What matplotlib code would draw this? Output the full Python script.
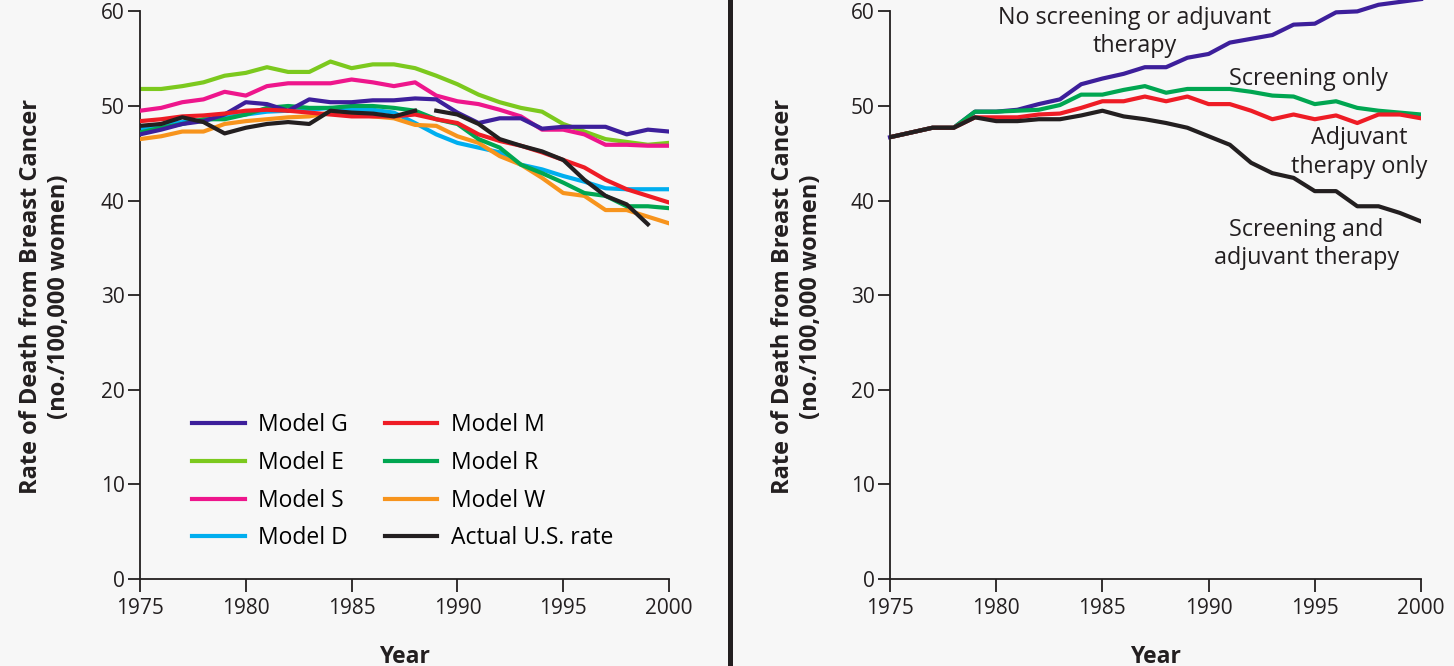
import matplotlib.pyplot as plt
from matplotlib.lines import Line2D

plt.rcParams['font.family'] = ['Open Sans', 'DejaVu Sans']

years = list(range(1975, 2001))

# left panel: model estimates, 1975-2000
model_g = [47.0, 47.5, 48.1, 48.4, 49.1, 50.4, 50.2, 49.5, 50.7, 50.4, 50.4, 50.6, 50.6,
           50.8, 50.7, 49.3, 48.2, 48.7, 48.7, 47.6, 47.8, 47.8, 47.8, 47.0, 47.5, 47.3]
model_e = [51.8, 51.8, 52.1, 52.5, 53.2, 53.5, 54.1, 53.6, 53.6, 54.7, 54.0, 54.4, 54.4,
           54.0, 53.2, 52.3, 51.2, 50.4, 49.8, 49.4, 48.1, 47.3, 46.5, 46.2, 45.9, 46.1]
model_s = [49.5, 49.8, 50.4, 50.7, 51.5, 51.1, 52.1, 52.4, 52.4, 52.4, 52.8, 52.5, 52.1,
           52.5, 51.1, 50.5, 50.2, 49.6, 48.9, 47.5, 47.5, 47.0, 45.9, 45.9, 45.8, 45.8]
model_d = [47.5, 48.0, 48.3, 48.5, 48.8, 49.1, 49.4, 49.5, 49.6, 49.8, 49.6, 49.6, 49.3,
           48.2, 47.0, 46.1, 45.6, 45.1, 43.8, 43.3, 42.6, 42.0, 41.3, 41.2, 41.2, 41.2]
model_m = [48.4, 48.6, 48.9, 49.0, 49.2, 49.5, 49.6, 49.5, 49.3, 49.1, 48.9, 48.9, 48.9,
           49.1, 48.6, 48.2, 47.0, 46.3, 45.8, 45.1, 44.3, 43.5, 42.2, 41.2, 40.5, 39.8]
model_r = [47.2, 47.7, 48.1, 48.6, 48.6, 49.1, 49.8, 50.0, 49.8, 49.8, 50.0, 50.0, 49.8,
           49.5, 48.6, 48.1, 46.5, 45.6, 43.8, 42.9, 41.9, 40.8, 40.5, 39.4, 39.4, 39.2]
model_w = [46.5, 46.8, 47.3, 47.3, 48.1, 48.4, 48.6, 48.8, 48.9, 49.3, 49.2, 48.9, 48.7,
           48.0, 47.9, 46.8, 46.1, 44.7, 43.8, 42.4, 40.8, 40.5, 39.0, 39.0, 38.3, 37.6]
# actual rate 1975-1999 (drawn as two pieces, 1975-88 and 1989-99)
actual = [47.9, 48.1, 48.8, 48.3, 47.1, 47.7, 48.1, 48.3, 48.1, 49.5, 49.3, 49.2, 48.9,
          49.5, 49.5, 49.1, 48.1, 46.5, 45.8, 45.2, 44.3, 42.2, 40.5, 39.6, 37.5]

# right panel: scenarios
no_screen = [46.7, 47.2, 47.7, 47.7, 49.4, 49.4, 49.6, 50.2, 50.7, 52.3, 52.9, 53.4, 54.1,
             54.1, 55.1, 55.5, 56.7, 57.1, 57.5, 58.6, 58.7, 59.9, 60.0, 60.7, 61.0, 61.3]
screen_only = [46.7, 47.2, 47.7, 47.7, 49.4, 49.4, 49.5, 49.6, 50.1, 51.2, 51.2, 51.7, 52.1,
               51.4, 51.8, 51.8, 51.8, 51.5, 51.1, 51.0, 50.2, 50.5, 49.8, 49.5, 49.3, 49.1]
adj_only = [46.7, 47.2, 47.7, 47.7, 48.8, 48.8, 48.8, 49.1, 49.2, 49.8, 50.5, 50.5, 51.0,
            50.5, 51.0, 50.2, 50.2, 49.5, 48.6, 49.1, 48.6, 49.0, 48.2, 49.1, 49.1, 48.7]
both = [46.7, 47.2, 47.7, 47.7, 48.8, 48.4, 48.4, 48.6, 48.6, 49.0, 49.5, 48.9, 48.6,
        48.2, 47.7, 46.8, 45.9, 44.0, 42.9, 42.4, 41.0, 41.0, 39.4, 39.4, 38.7, 37.8]

PURPLE = '#3d1f9b'
LGREEN = '#7cc91e'
MAGENTA = '#ee168c'
LBLUE = '#00aeef'
RED = '#ee1c25'
GREEN = '#00a651'
ORANGE = '#f7941d'
BLACK = '#231f20'

W, H = 1454, 666
fig = plt.figure(figsize=(W / 100, H / 100), dpi=100, facecolor='#f7f7f7')

ytop = 61.5
ax1 = fig.add_axes([140 / W, 87 / H, 529 / W, 581.8 / H])
ax2 = fig.add_axes([890 / W, 87 / H, 531 / W, 581.8 / H])

lw = 3.0
ax1.plot(years, model_e, color=LGREEN, lw=lw, label='Model E', zorder=2)
ax1.plot(years, model_s, color=MAGENTA, lw=lw, label='Model S', zorder=3)
ax1.plot(years, model_g, color=PURPLE, lw=lw, label='Model G', zorder=4)
ax1.plot(years, model_d, color=LBLUE, lw=lw, label='Model D', zorder=2)
ax1.plot(years, model_w, color=ORANGE, lw=lw, label='Model W', zorder=3)
ax1.plot(years, model_r, color=GREEN, lw=lw, label='Model R', zorder=3)
ax1.plot(years, model_m, color=RED, lw=lw, label='Model M', zorder=4)
ax1.plot(years[:14], actual[:14], color=BLACK, lw=lw, label='Actual U.S. rate', zorder=5)
ax1.plot(years[14:25], actual[14:], color=BLACK, lw=lw, zorder=5)

handles, labels = ax1.get_legend_handles_labels()
order = ['Model G', 'Model E', 'Model S', 'Model D',
         'Model M', 'Model R', 'Model W', 'Actual U.S. rate']
hmap = dict(zip(labels, handles))
ax1.legend([hmap[k] for k in order], order, ncol=2, frameon=False, fontsize=16.5,
           loc='upper left', bbox_to_anchor=(0.098, 0.285), borderpad=0, borderaxespad=0,
           handlelength=2.3, handletextpad=0.6, columnspacing=1.6, labelspacing=0.6)

ax2.plot(years, no_screen, color=PURPLE, lw=lw, clip_on=False, zorder=2)
ax2.plot(years, screen_only, color=GREEN, lw=lw, zorder=3)
ax2.plot(years, adj_only, color=RED, lw=lw, zorder=4)
ax2.plot(years, both, color=BLACK, lw=lw, zorder=5)

tfs = 16.8
ax2.text(1986.53, 57.8, 'No screening or adjuvant\ntherapy', ha='center', va='center',
         fontsize=tfs, color=BLACK, linespacing=1.25)
ax2.text(1994.68, 52.9, 'Screening only', ha='center', va='center',
         fontsize=tfs, color=BLACK)
ax2.text(1997.08, 45.1, 'Adjuvant\ntherapy only', ha='center', va='center',
         fontsize=tfs, color=BLACK, linespacing=1.25)
ax2.text(1994.59, 35.4, 'Screening and\nadjuvant therapy', ha='center', va='center',
         fontsize=tfs, color=BLACK, linespacing=1.25)

for ax, lx in ((ax1, -0.130), (ax2, -0.126)):
    ax.set_facecolor('none')
    ax.set_xlim(1975, 2000)
    ax.set_ylim(0, ytop)
    ax.set_xticks(range(1975, 2001, 5))
    ax.set_yticks(range(0, 61, 10))
    for s in ('top', 'right'):
        ax.spines[s].set_visible(False)
    ax.spines['left'].set_bounds(0, 60)
    ax.spines['bottom'].set_bounds(1975, 2000)
    for s in ('left', 'bottom'):
        ax.spines[s].set_color(BLACK)
        ax.spines[s].set_linewidth(1.3)
    ax.tick_params(direction='out', length=9, width=1.3, color=BLACK,
                   labelsize=15, labelcolor=BLACK)
    ax.tick_params(axis='y', pad=2)
    ax.tick_params(axis='x', pad=5)
    ax.set_ylabel('Rate of Death from Breast Cancer\n(no./100,000 women)',
                  fontsize=17, fontweight='bold', color=BLACK, linespacing=1.25)
    ax.yaxis.set_label_coords(lx, 0.485)
    ax.set_xlabel('Year', fontsize=16.5, fontweight='bold', color=BLACK)
    ax.xaxis.set_label_coords(0.5, -0.113)

# divider between the two panels
fig.add_artist(Line2D([730 / W, 730 / W], [0, 1], color=BLACK, lw=3.6))

fig.savefig('out.png', dpi=100, facecolor=fig.get_facecolor())
